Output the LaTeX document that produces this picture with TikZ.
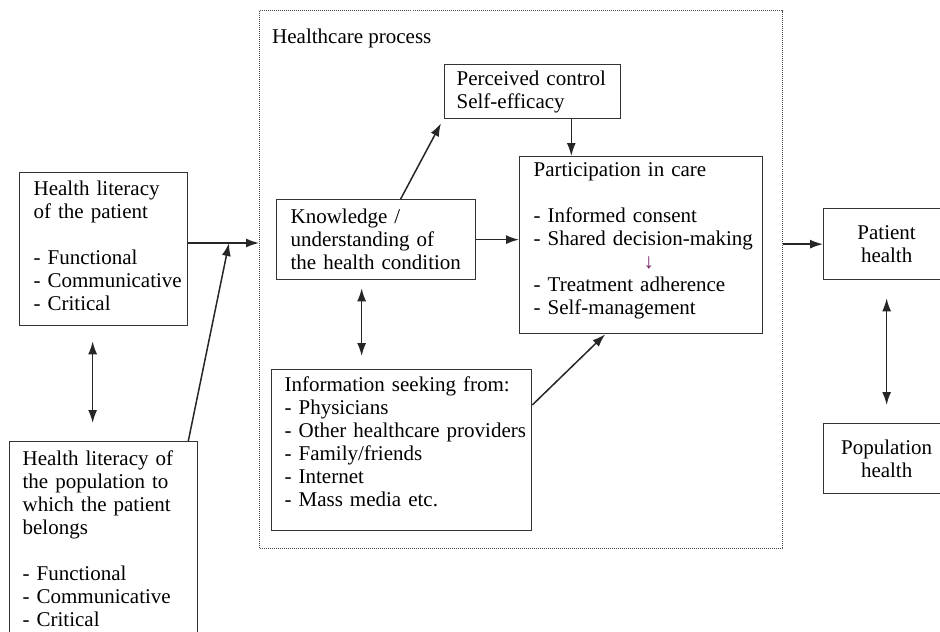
\documentclass[tikz,border=0pt]{standalone}
\usepackage{fontspec}
\setmainfont{Liberation Serif}
\usepackage{xcolor}
\usetikzlibrary{positioning,arrows.meta,calc}
\definecolor{downpurple}{rgb}{0.45,0.12,0.38}
\hyphenpenalty=10000
\exhyphenpenalty=10000

\begin{document}
\begin{tikzpicture}[
  x=1pt, y=1pt,
  font=\fontsize{21}{23}\selectfont,
  box/.style={draw=black!80, line width=1.3pt, anchor=north west, align=left, inner ysep=0pt},
  endbox/.style={box, align=center, minimum width=126pt},
  arr/.style={-{Latex[length=13pt,width=9pt]}, line width=1.5pt, black!85},
  dbl/.style={{Latex[length=13pt,width=9pt]}-{Latex[length=13pt,width=9pt]}, line width=1.5pt, black!85}
]
\useasboundingbox (0,0) rectangle (940,-632);
\clip (0,0) rectangle (940,-632);
\node[draw=black!70, densely dotted, line width=1pt, anchor=north west, minimum width=523pt, minimum height=538pt, inner sep=0pt] (proc) at (259,-10) {};
\node[anchor=west, inner sep=0pt] (title) at (272,-38) {Healthcare process};
\node[box, text width=140pt, inner xsep=14pt, minimum height=153pt] (hlp) at (19,-172) {Health literacy\\of the patient\\[23pt]- Functional\\\mbox{- Communicative}\\- Critical\\[-16pt]\mbox{}};
\node[box, text width=162pt, inner xsep=13pt, minimum height=194pt] (hlpop) at (9,-441) {Health literacy of\\the population to\\which the patient\\belongs\\[23pt]- Functional\\\mbox{- Communicative}\\- Critical};
\node[box, text width=171pt, inner xsep=14pt, minimum height=80pt] (know) at (276,-199) {Knowledge /\\understanding of\\the health condition};
\node[box, text width=152pt, inner xsep=12pt, minimum height=54pt] (perc) at (444,-64) {Perceived control\\Self-efficacy};
\node[box, text width=215pt, inner xsep=14pt, minimum height=177pt] (part) at (519,-156) {Participation in care\\[23pt]- Informed consent\\\mbox{- Shared decision-making}\\\hspace*{110pt}\textcolor{downpurple}{↓}\\- Treatment adherence\\- Self-management\\[-10pt]\mbox{}};
\node[box, text width=234pt, inner xsep=13pt, minimum height=161pt] (info) at (271,-369) {Information seeking from:\\- Physicians\\\mbox{- Other healthcare providers}\\- Family/friends\\- Internet\\- Mass media etc.\\[-5pt]\mbox{}};
\node[endbox, minimum height=71pt] (ph) at (823,-208) {Patient\\health};
\node[endbox, minimum height=70pt] (poph) at (823,-423) {Population\\health};
\coordinate (join) at (229,-243);
\coordinate (hq) at ([xshift=-11pt]hlp.south);
\coordinate (kq) at ([xshift=-14.5pt]know.south);
\coordinate (pdrop) at ($(perc.south east)+(-50,0)$);
\draw[arr] (hlp.east |- join) -- (join -| proc.west);
\draw[arr] ($(hlpop.north east)+(-10,0)$) -- (join);
\draw[dbl, shorten <=15pt, shorten >=18pt] (hq) -- (hq |- hlpop.north);
\draw[arr] ([xshift=24.5pt]know.north) -- ($(perc.south west)+(-3,-4)$);
\draw[arr] (pdrop) -- (pdrop |- part.north);
\draw[arr] (know.east) -- (know.east -| part.west);
\draw[dbl, shorten <=8pt, shorten >=13pt] (kq) -- (kq |- info.north);
\draw[arr] ($(info.north east)+(0,-36)$) -- ($(part.south)+(-36,0)$);
\draw[arr] (proc.east |- ph.west) -- (ph.west);
\draw[dbl, shorten <=18pt, shorten >=18pt] (ph.south) -- (poph.north);
\end{tikzpicture}
\end{document}
